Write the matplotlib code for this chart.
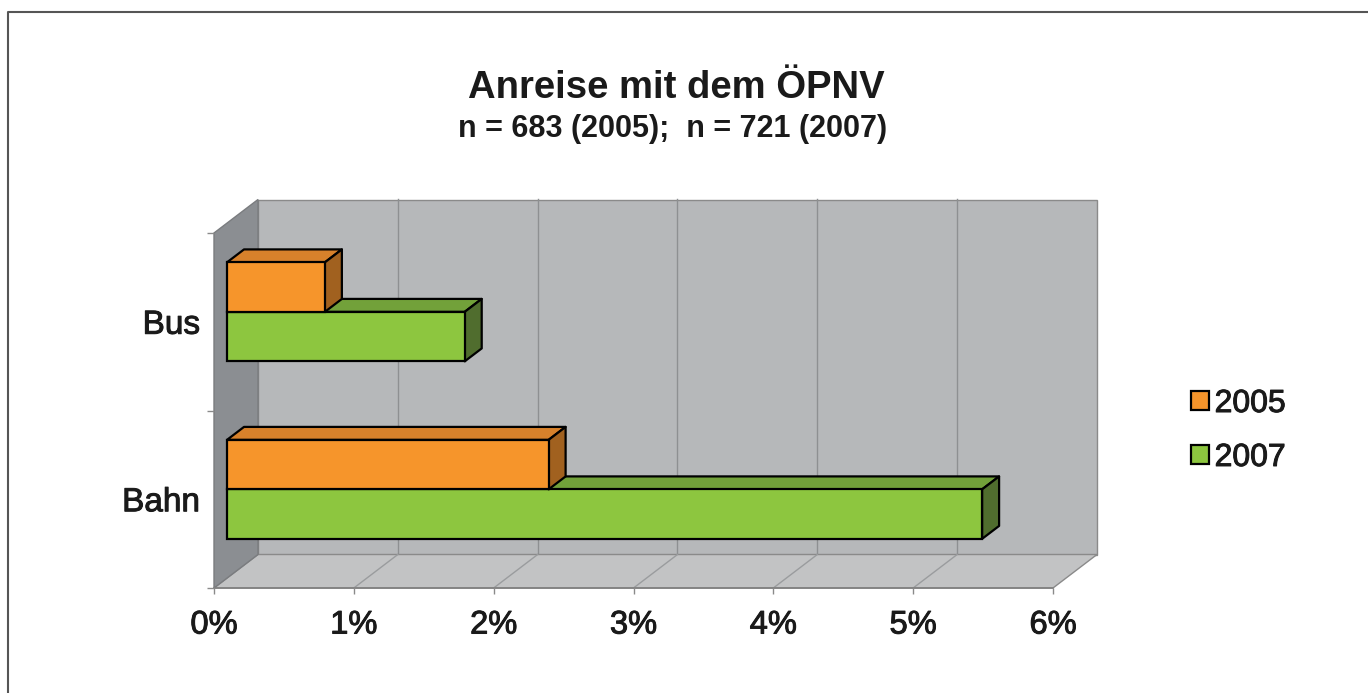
import numpy as np
import matplotlib.pyplot as plt
import matplotlib.patheffects as pe
from matplotlib.patches import Polygon, Rectangle
from matplotlib.lines import Line2D

plt.rcParams['font.family'] = ['Liberation Sans', 'DejaVu Sans']

# ── Data ─────────────────────────────────────────────────────
categories = ['Bahn', 'Bus']
years = ['2005', '2007']
share_2005 = [2.3, 0.7]   # percent
share_2007 = [5.4, 1.7]
x_ticks = [0, 1, 2, 3, 4, 5, 6]
x_labels = [f'{t}%' for t in x_ticks]

# ── Colours ──────────────────────────────────────────────────
orange, orange_top, orange_side = '#f6952b', '#d7812b', '#a1611f'
green, green_top, green_side = '#8dc63f', '#72a13a', '#506d2e'
wall_back, wall_left, floor = '#b6b8ba', '#8b8e92', '#c2c3c4'
grid_c, edge_c = '#8e9092', '#8a8a8a'
heavy = [pe.withStroke(linewidth=0.7, foreground='#1a1a1a')]

W, H = 1368, 693
fig = plt.figure(figsize=(W / 100, H / 100), dpi=100)
ax = fig.add_axes([214 / W, 1 - 588 / H, 839 / W, 355 / H])
ax.set_xlim(0, 6)
ax.set_ylim(0, 2)
ax.patch.set_visible(False)
for s in ax.spines.values():
    s.set_visible(False)

# pixel depth of the 3D box -> data units
px_x, px_y = 839 / 6, 355 / 2
def depth(d):
    return np.array([44 * d / px_x, 33.5 * d / px_y])

bx, by = depth(1)

# ── Walls and floor ──────────────────────────────────────────
ax.add_patch(Rectangle((bx, by), 6, 2, fc=wall_back, ec=edge_c, lw=1,
                       clip_on=False, zorder=0))
for t in x_ticks[1:-1]:
    ax.plot([t + bx, t + bx], [by, 2 + by], color=grid_c, lw=1,
            clip_on=False, zorder=0.5)
ax.add_patch(Polygon([(0, 0), (6, 0), (6 + bx, by), (bx, by)], closed=True,
                     fc=floor, ec=edge_c, lw=1, clip_on=False, zorder=0.6))
for t in x_ticks[1:-1]:
    ax.plot([t, t + bx], [0, by], color='#9a9c9e', lw=1, clip_on=False,
            zorder=0.7)
ax.add_patch(Polygon([(0, 0), (bx, by), (bx, 2 + by), (0, 2)], closed=True,
                     fc=wall_left, ec='#7a7c7f', lw=1, clip_on=False, zorder=0.8))
ax.plot([0, 6], [0, 0], color='#808080', lw=1.2, clip_on=False, zorder=0.9)

# ── Bars (front faces) ───────────────────────────────────────
fx, fy = depth(13 / 44)
ex, ey = depth(30 / 44) - depth(13 / 44)
h = 49.5 / 177.5
y_pos = np.arange(len(categories)) + 0.5

bars_05 = ax.barh(y_pos + fy + h / 2, share_2005, height=h, left=fx,
                  color=orange, edgecolor='black', lw=1.6, label=years[0],
                  zorder=5, clip_on=False)
bars_07 = ax.barh(y_pos + fy - h / 2, share_2007, height=h, left=fx,
                  color=green, edgecolor='black', lw=1.6, label=years[1],
                  zorder=3, clip_on=False)

def add_faces(bars, top_c, side_c, z):
    for bar in bars:
        x0, y0 = bar.get_x(), bar.get_y()
        x1, y1 = x0 + bar.get_width(), y0 + bar.get_height()
        top = [(x0, y1), (x1, y1), (x1 + ex, y1 + ey), (x0 + ex, y1 + ey)]
        side = [(x1, y0), (x1, y1), (x1 + ex, y1 + ey), (x1 + ex, y0 + ey)]
        for pts, c in [(top, top_c), (side, side_c)]:
            ax.add_patch(Polygon(pts, closed=True, fc=c, ec='black', lw=1.6,
                                 joinstyle='round', clip_on=False, zorder=z))

add_faces(bars_07, green_top, green_side, 2)
add_faces(bars_05, orange_top, orange_side, 4)

# ── Axes ticks and labels ────────────────────────────────────
ax.set_xticks(x_ticks, x_labels)
ax.tick_params(axis='x', length=4.5, width=1, color=edge_c, pad=11,
               labelsize=23.5, labelcolor='#1a1a1a')
ax.set_yticks([0, 1, 2], [])
ax.tick_params(axis='y', which='major', length=5, width=1, color=edge_c)
ax.set_yticks(y_pos, categories, minor=True)
ax.tick_params(axis='y', which='minor', length=0, pad=10, labelsize=24,
               labelcolor='#1a1a1a')
for lab in ax.get_xticklabels() + ax.get_yticklabels(minor=True):
    lab.set_path_effects(heavy)

# ── Title, legend, frame ─────────────────────────────────────
fig.text(676 / W, 1 - 88 / H, 'Anreise mit dem ÖPNV', ha='center', va='center',
         fontsize=27.5, fontweight='bold', color='#1a1a1a')
fig.text(673 / W, 1 - 129 / H, 'n = 683 (2005);  n = 721 (2007)', ha='center',
         va='center', fontsize=22, fontweight='bold', color='#1a1a1a')

leg = fig.legend(handles=[bars_05, bars_07], labels=years, loc='center left',
                 bbox_to_anchor=(1175 / W, 1 - 431 / H), frameon=False,
                 fontsize=23, handlelength=0.56, handleheight=0.56,
                 handletextpad=0.18, labelspacing=0.75, borderpad=0)
for txt in leg.get_texts():
    txt.set_color('#1a1a1a')
    txt.set_path_effects(heavy)

fig.add_artist(Line2D([8 / W, 8 / W, 1], [0, 1 - 12 / H, 1 - 12 / H],
                      transform=fig.transFigure, color='#555555', lw=1.5))

plt.savefig('out.png', dpi=100)
